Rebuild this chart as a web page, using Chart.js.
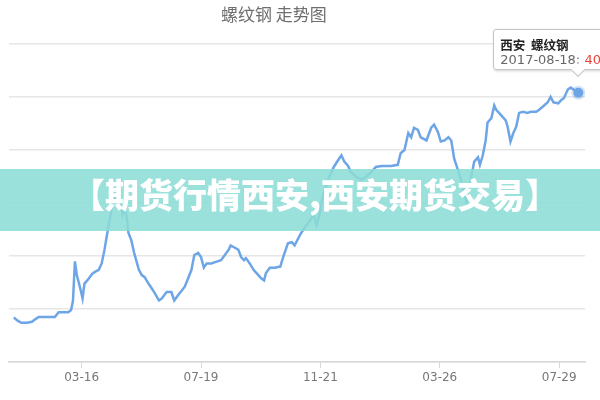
<!DOCTYPE html>
<html>
<head>
<meta charset="utf-8">
<script src="https://cdn.jsdelivr.net/npm/chart.js@4/dist/chart.umd.min.js"></script>
<style>
  html, body { margin: 0; padding: 0; background: #fff; overflow: hidden; }
  #caja { position: relative; width: 600px; height: 400px; overflow: hidden; }
  #titulo {
    position: absolute; top: 3px; left: 221px;
    font: 17px "Noto Sans CJK SC", sans-serif; color: #6e6e6e; line-height: 22px;
  }
  #franja {
    position: absolute; left: 0; top: 169px; width: 600px; height: 62px;
    box-sizing: border-box; padding-left: 30px;
    background: rgba(140, 220, 214, 0.88);
    color: #fff; text-align: center; line-height: 60px;
    font: 900 34px "Noto Sans CJK SC", sans-serif;
  }
  #tooltip {
    position: absolute; width: 150px; height: 41px; box-sizing: border-box;
    background: #fff; border: 1px solid #c4c4c4; border-radius: 3px;
    box-shadow: 1px 1px 3px rgba(0,0,0,0.18);
    padding: 7px 6px 5px; white-space: nowrap; opacity: 0;
  }
  #tooltip::after {
    content: ""; position: absolute; left: 79px; bottom: -6px; width: 9px; height: 9px;
    background: #fff; border-right: 1px solid #c4c4c4; border-bottom: 1px solid #c4c4c4;
    transform: rotate(45deg);
  }
  #tooltip .t1 { font: bold 12.5px "Noto Sans CJK SC", sans-serif; color: #222; line-height: 15px; }
  #tooltip .t2 { font: 13px "DejaVu Sans", sans-serif; color: #666; line-height: 15px; }
  #tooltip .t2 span { color: #e8453c; }
</style>
</head>
<body>
<div id="caja">
  <canvas id="grafico" width="600" height="400"></canvas>
  <div id="titulo">螺纹钢 走势图</div>
  <div id="franja">【期货行情西安,西安期货交易】</div>
  <div id="tooltip"></div>
</div>
<script>
// Datos: dias desde 2016-01-05 y precio del螺纹钢 (yuan/t)
const inicio = Date.UTC(2016, 0, 5)

const dias = [
  0, 4, 8, 14, 19, 22, 26, 34, 43, 47, 52, 57, 60, 62, 64, 66, 68, 70, 72, 74,
  77, 82, 85, 89, 92, 95, 97, 99, 102, 106, 109, 112, 114, 116, 118, 120, 123, 126, 131, 134,
  137, 141, 144, 147, 152, 155, 160, 165, 168, 172, 179, 183, 186, 189, 193, 196, 199, 202, 207, 210,
  217, 225, 227, 231, 235, 238, 241, 243, 247, 251, 256, 259, 262, 264, 268, 273, 279, 282, 287, 291,
  294, 298, 301, 304, 309, 314, 317, 320, 324, 329, 335, 340, 343, 346, 350, 353, 358, 364, 369, 374,
  379, 385, 395, 402, 405, 409, 413, 416, 419, 423, 426, 432, 437, 440, 444, 447, 451, 455, 458, 461,
  465, 468, 471, 474, 476, 479, 482, 486, 488, 491, 494, 496, 500, 503, 505, 508, 512, 515, 517, 520,
  523, 526, 529, 533, 538, 541, 547, 550, 554, 559, 562, 565, 570, 573, 576, 580, 583, 586, 591
]

const precios = [
  1920, 1890, 1870, 1870, 1880, 1900, 1925, 1925, 1925, 1970, 1970, 1970, 1990, 2080, 2450, 2320, 2250, 2180, 2100, 2240,
  2270, 2330, 2350, 2370, 2430, 2560, 2670, 2770, 2930, 3050, 3080, 2980, 2890, 2950, 2890, 2720, 2650, 2530, 2370, 2320,
  2300, 2240, 2200, 2160, 2080, 2100, 2160, 2160, 2080, 2130, 2210, 2300, 2370, 2510, 2530, 2490, 2390, 2430, 2430, 2440,
  2460, 2560, 2600, 2580, 2560, 2490, 2460, 2480, 2430, 2370, 2320, 2290, 2270, 2340, 2390, 2390, 2400, 2490, 2620, 2630,
  2600, 2670, 2720, 2760, 2820, 2890, 2790, 2890, 3080, 3220, 3340, 3410, 3450, 3390, 3350, 3290, 3250, 3220, 3250, 3290,
  3340, 3350, 3350, 3360, 3470, 3500, 3660, 3620, 3710, 3690, 3620, 3590, 3710, 3740, 3670, 3580, 3590, 3620, 3590, 3420,
  3310, 3220, 3120, 3000, 3120, 3250, 3390, 3430, 3360, 3450, 3590, 3760, 3800, 3920, 3880, 3850, 3810, 3780, 3720, 3580,
  3660, 3720, 3850, 3860, 3850, 3860, 3860, 3880, 3910, 3950, 4000, 3950, 3940, 3970, 3990, 4070, 4090, 4070, 4040
]

// Etiquetas del eje X
const diasEtiquetas = [71, 196, 321, 446, 571]
const etiquetas = ['03-16', '07-19', '11-21', '03-26', '07-29']

const ultimo = precios.length - 1
const azul = '#6ea5e6'

// Tooltip en HTML, como el del original
function tooltipExterno({ chart, tooltip })
{
  const el = document.getElementById('tooltip')
  if (tooltip.opacity === 0) { el.style.opacity = 0; return }
  const punto = tooltip.dataPoints[0]
  const fecha = new Date(inicio + punto.parsed.x * 86400000).toISOString().slice(0, 10)
  el.innerHTML = '<div class="t1">西安&nbsp; 螺纹钢</div>' +
    '<div class="t2">' + fecha + ': <span>' + punto.parsed.y + '</span></div>'
  el.style.left = (tooltip.caretX - 85) + 'px'
  el.style.top = (tooltip.caretY - 64) + 'px'
  el.style.opacity = 1
}

const ctx = document.getElementById('grafico').getContext('2d')
const chart = new Chart(ctx, {
  type: 'line',
  data: {
    datasets: [{
      data: dias.map((d, i) => ({ x: d, y: precios[i] })),
      borderColor: azul,
      borderWidth: 2.5,
      tension: 0,
      pointRadius: c => c.dataIndex === ultimo ? 5 : 0,
      pointHoverRadius: c => c.dataIndex === ultimo ? 5 : 0,
      pointBackgroundColor: azul,
      pointHoverBackgroundColor: azul,
      pointBorderColor: 'rgba(110,165,230,0.3)',
      pointHoverBorderColor: 'rgba(110,165,230,0.3)',
      pointBorderWidth: 4,
      pointHoverBorderWidth: 4
    }]
  },
  options: {
    responsive: false,
    animation: false,
    events: [],
    layout: { padding: { left: 7, right: 15, top: 44, bottom: 11.6 } },
    plugins: {
      legend: { display: false },
      tooltip: { enabled: false, external: tooltipExterno }
    },
    scales: {
      x: {
        type: 'linear',
        min: -5,
        max: 598,
        afterBuildTicks: escala => { escala.ticks = diasEtiquetas.map(v => ({ value: v })) },
        ticks: {
          padding: 3,
          color: '#777',
          font: { family: 'DejaVu Sans', size: 12 },
          callback: v => etiquetas[diasEtiquetas.indexOf(v)]
        },
        grid: { drawOnChartArea: false, tickLength: 6, color: '#d8d8d8' },
        border: { color: '#d8d8d8', width: 1.5 }
      },
      y: {
        min: 1500,
        max: 4500,
        ticks: { display: false, stepSize: 500 },
        grid: { drawTicks: false, color: '#e6e6e6', lineWidth: 1.5 },
        border: { display: false }
      }
    }
  }
})

// Se activa el ultimo punto para mostrar el tooltip
chart.setActiveElements([{ datasetIndex: 0, index: ultimo }])
chart.tooltip.setActiveElements([{ datasetIndex: 0, index: ultimo }], { x: 0, y: 0 })
chart.update()
</script>
</body>
</html>
